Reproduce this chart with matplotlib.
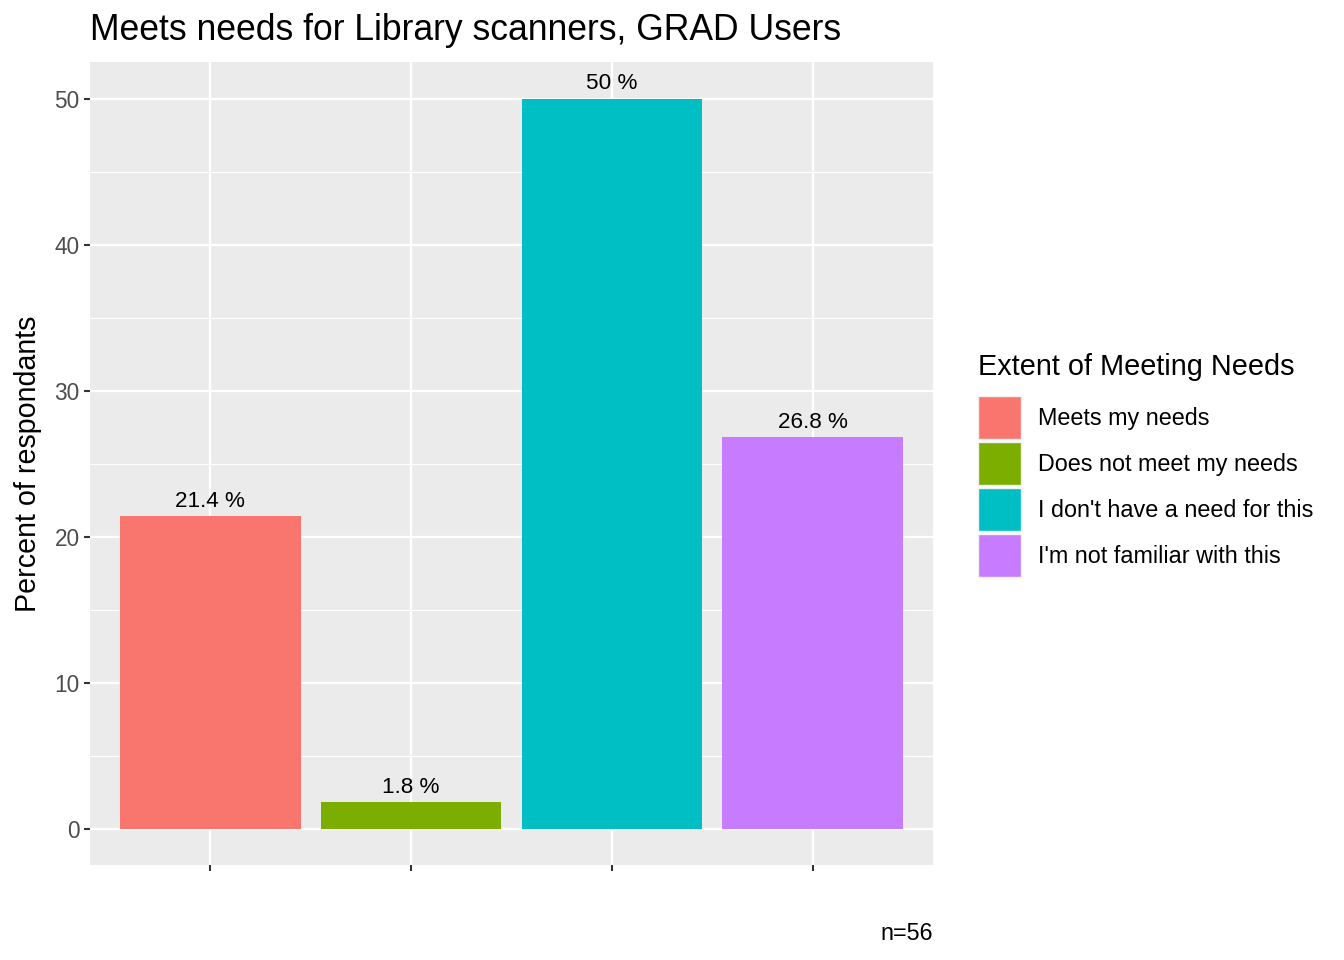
import matplotlib
matplotlib.use("Agg")
import matplotlib.pyplot as plt
from matplotlib.patches import Rectangle
from matplotlib.ticker import MultipleLocator

plt.rcParams['font.family'] = ['Liberation Sans', 'DejaVu Sans']

title = "Meets needs for Library scanners, GRAD Users"
categories = ["Meets my needs", "Does not meet my needs",
              "I don't have a need for this", "I'm not familiar with this"]
values = [21.4, 1.8, 50, 26.8]
labels = ["21.4 %", "1.8 %", "50 %", "26.8 %"]
colors = ["#F8766D", "#7CAE00", "#00BFC4", "#C77CFF"]
ylabel = "Percent of respondants"
legend_title = "Extent of Meeting Needs"
caption = "n=56"

W, H = 1344, 960
fig = plt.figure(figsize=(W / 100, H / 100), dpi=100)
L, R, T, B = 90, 933, 62, 865
ax = fig.add_axes([L / W, 1 - B / H, (R - L) / W, (B - T) / H])
ax.set_facecolor("#EBEBEB")
for s in ax.spines.values():
    s.set_visible(False)

x = list(range(1, len(values) + 1))
ax.bar(x, values, width=0.9, color=colors, zorder=3)
for xi, v, lab in zip(x, values, labels):
    ax.annotate(lab, (xi, v), xytext=(0, 3), textcoords="offset points",
                ha="center", va="bottom", fontsize=16.2, color="black", zorder=4)

ax.set_xlim(0.4, 4.6)
ax.set_ylim(-2.5, 52.5)
ax.set_xticks(x)
ax.set_xticklabels([])
ax.yaxis.set_major_locator(MultipleLocator(10))
ax.yaxis.set_minor_locator(MultipleLocator(5))
ax.grid(which="major", color="white", linewidth=1.6, zorder=0)
ax.grid(which="minor", axis="y", color="white", linewidth=0.8, zorder=0)
ax.set_axisbelow(True)
ax.tick_params(axis="both", which="major", length=4.5, width=1.5, color="#333333",
               labelsize=16.3, labelcolor="#4D4D4D", pad=3)
ax.tick_params(axis="y", which="minor", length=0)
ax.set_ylabel(ylabel, fontsize=20.6, color="black", labelpad=9)

fig.text(L / W, 1 - 31 / H, title, fontsize=25.6, ha="left", va="center")
fig.text(R / W, 1 - 933 / H, caption, fontsize=16.8, ha="right", va="center")

# legend
fig.text(978 / W, 1 - 367 / H, legend_title, fontsize=20.8, ha="left", va="center")
for i, cat in enumerate(categories):
    top = 396 + 46 * i
    fig.patches.append(Rectangle((978 / W, 1 - (top + 43) / H), 43 / W, 43 / H,
                                 transform=fig.transFigure, facecolor=colors[i],
                                 edgecolor="#F2F2F2", linewidth=1.0))
    fig.text(1038 / W, 1 - (top + 22.5) / H, cat, fontsize=16.8, ha="left", va="center")

fig.savefig("out.png", dpi=100)
